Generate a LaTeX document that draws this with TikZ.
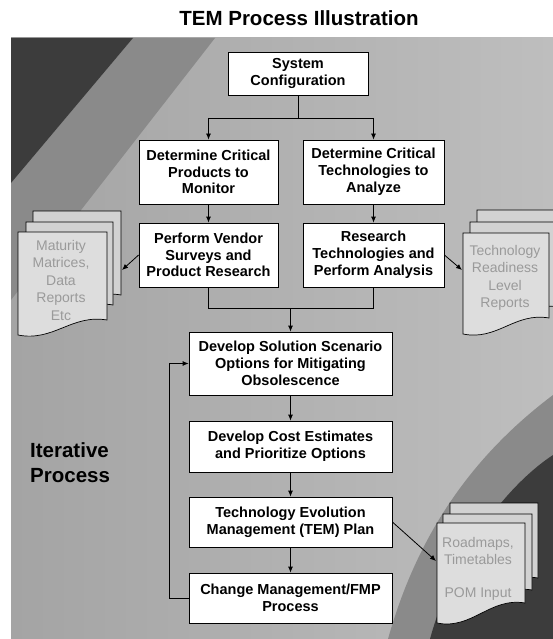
\documentclass[tikz,border=0pt]{standalone}
\usepackage{fontspec}
\setmainfont{Liberation Sans}
\usetikzlibrary{arrows.meta}
\definecolor{bgleft}{HTML}{A4A4A4}
\definecolor{bgright}{HTML}{BEBEBE}
\definecolor{bgmid}{HTML}{8A8A8A}
\definecolor{bgdark}{HTML}{3C3C3C}
\definecolor{pagefront}{HTML}{DDDDDD}
\definecolor{pageback}{HTML}{D2D2D2}
\definecolor{doctxt}{HTML}{9A9A9A}
\newcommand\docpg[6]{%
  \path[#6] (#1,#3) -- (#2,#3) -- (#2,#5)
    .. controls ({#1+0.6*(#2-#1)},{#5-6}) and ({#1+0.4*(#2-#1)},{#4+7}) .. (#1,#4) -- cycle;}
\begin{document}
\begin{tikzpicture}[x=1pt,y=-1pt,
  procbox/.style={draw=black,line width=0.8pt,fill=white,align=center,inner sep=0pt,
    font=\bfseries\fontsize{14.5}{16.8}\selectfont},
  conn/.style={line width=0.8pt,draw=black},
  arr/.style={conn,-{Latex[length=6pt,width=5pt]}},
  pagef/.style={draw=black,line width=0.7pt,fill=pagefront},
  pageb/.style={draw=black,line width=0.7pt,fill=pageback},
  doctext/.style={align=center,text=doctxt,inner sep=0pt,font=\fontsize{14}{17.5}\selectfont}]
\useasboundingbox (0,0) rectangle (553,639);
\fill[white] (0,0) rectangle (553,639);
% background panel
\begin{scope}
\clip (11,38) rectangle (553,639);
\shade[left color=bgleft,right color=bgright] (11,38) rectangle (553,639);
\fill[bgmid] (133,38) -- (215,38) -- (11,300) -- (11,183) -- cycle;
\fill[bgdark] (11,38) -- (133,38) -- (11,183) -- cycle;
\fill[bgmid] (553,395) .. controls (480,450) and (420,525) .. (388,639) -- (553,639) -- cycle;
\fill[bgdark] (553,455) .. controls (500,490) and (450,565) .. (430,639) -- (553,639) -- cycle;
% documents
\docpg{33}{121}{211}{305}{295}{pageb}
\docpg{26}{113}{222}{318}{305}{pageb}
\docpg{18}{107}{232}{335}{320}{pagef}
\docpg{477}{565}{210}{311}{297}{pageb}
\docpg{470}{558}{222}{322}{307}{pageb}
\docpg{463}{549}{233}{334}{318}{pagef}
\docpg{450}{538}{503}{596}{578}{pageb}
\docpg{443}{532}{514}{608}{590}{pageb}
\docpg{437}{525}{523}{623}{603}{pagef}
\end{scope}
\node[doctext] (matdoc) at (61,280) {Maturity\\Matrices,\\Data\\Reports\\Etc};
\node[doctext] (trldoc) at (505,278) {Technology\\Readiness\\Level\\Reports};
\node[doctext] (rmdoc) at (478,551) {Roadmaps,\\Timetables};
\node[doctext] (pomdoc) at (478,594) {POM Input};
\coordinate (matTip) at (122,270);
\coordinate (trlTip) at (462,270);
\coordinate (rmTip) at (436,561);
% title and side label
\node[anchor=base,inner sep=0pt,font=\bfseries\fontsize{20.5}{24}\selectfont] (title) at (299,26) {TEM Process Illustration};
\node[anchor=base west,inner sep=0pt,font=\bfseries\fontsize{20.5}{25}\selectfont] (iter1) at (30,457) {Iterative};
\node[anchor=base west,inner sep=0pt,font=\bfseries\fontsize{20.5}{25}\selectfont] (iter2) at (30,482) {Process};
% process boxes
\node[procbox,minimum width=140pt,minimum height=43pt] (sys) at (298,73.5) {System\\Configuration};
\node[procbox,minimum width=139pt,minimum height=64pt] (prod) at (208.5,172) {Determine Critical\\Products to\\Monitor};
\node[procbox,minimum width=141pt,minimum height=64pt] (tech) at (373.5,172) {Determine Critical\\Technologies to\\Analyze};
\node[procbox,minimum width=139pt,minimum height=64pt] (vend) at (208.5,255) {Perform Vendor\\Surveys and\\Product Research};
\node[procbox,minimum width=141pt,minimum height=64pt] (res) at (373.5,255) {Research\\Technologies and\\Perform Analysis};
\node[procbox,minimum width=203pt,minimum height=63pt] (sol) at (290.5,363.5) {Develop Solution Scenario\\Options for Mitigating\\Obsolescence};
\node[procbox,minimum width=203pt,minimum height=51pt] (cost) at (290.5,446.5) {Develop Cost Estimates\\and Prioritize Options};
\node[procbox,minimum width=203pt,minimum height=50pt] (plan) at (290.5,522) {Technology Evolution\\Management (TEM) Plan};
\node[procbox,minimum width=203pt,minimum height=50pt] (chg) at (290.5,598) {Change Management/FMP\\Process};
% connectors
\coordinate (splitL) at (208.5,118);
\coordinate (splitR) at (373.5,118);
\coordinate (splitC) at (298,118);
\coordinate (mergeL) at (208.5,308);
\coordinate (mergeR) at (373.5,308);
\coordinate (mergeC) at (290.5,308);
\coordinate (fbB) at (169,598);
\coordinate (fbT) at (169,363.5);
\draw[conn] (sys.south) -- (splitC);
\draw[conn] (splitL) -- (splitR);
\draw[arr] (splitL) -- (prod.north);
\draw[arr] (splitR) -- (tech.north);
\draw[arr] (prod.south) -- (vend.north);
\draw[arr] (tech.south) -- (res.north);
\draw[conn] (vend.south) -- (mergeL) -- (mergeR) -- (res.south);
\draw[arr] (mergeC) -- (sol.north);
\draw[arr] (sol.south) -- (cost.north);
\draw[arr] (cost.south) -- (plan.north);
\draw[arr] (plan.south) -- (chg.north);
\draw[arr] (chg.west) -- (fbB) -- (fbT) -- (sol.west);
\draw[arr] (vend.west) -- (matTip);
\draw[arr] (res.east) -- (trlTip);
\draw[arr] (plan.east) -- (rmTip);
\end{tikzpicture}
\end{document}
